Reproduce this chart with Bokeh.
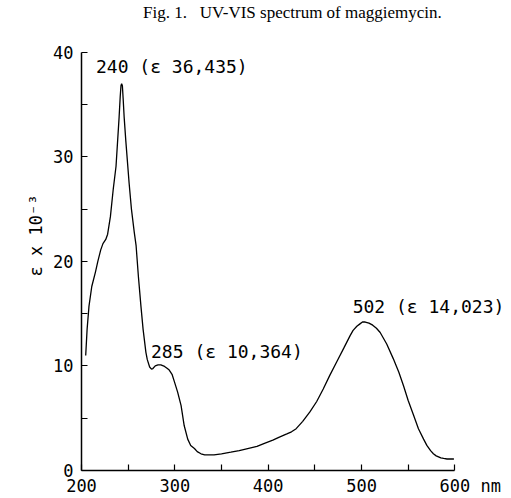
from bokeh.plotting import figure
from bokeh.models import Range1d, FixedTicker, Label
from bokeh.embed import file_html
from bokeh.resources import INLINE

# Spectrum: wavelength (nm) and epsilon x 10^-3
wavelength = [204.5, 206, 208, 211, 215, 217.5, 220.6, 223, 226, 228, 231, 234, 237,
              240.3, 241.5, 242.3, 243, 243.8, 244.6, 245.7, 247.5, 251, 253.5,
              256.5, 258.5, 261, 263.7, 266, 269, 270.5, 273, 275, 276.5, 279, 282,
              285, 289, 292, 294, 297, 299.5, 303, 306.7, 310, 313.8, 317, 321, 324,
              328, 332, 337, 342, 350, 360, 369, 378, 388, 396, 405, 412, 420, 425,
              430, 437, 444.7, 452, 459, 466, 473.5, 481, 487.8, 491, 495, 498, 501,
              504, 508, 512, 516, 520, 527, 534, 540, 545, 550, 555.7, 561, 566.5,
              570, 574, 577, 580, 585, 588, 591.6, 599]
epsilon = [11.0, 13.5, 15.7, 17.6, 19.0, 20.0, 21.1, 21.7, 22.1, 22.6, 24.3, 26.9, 29.1,
           33.8, 35.8, 36.8, 37.0, 36.8, 35.6, 33.8, 31.5, 27.5, 25.0,
           22.8, 21.5, 18.5, 15.7, 13.5, 11.3, 10.6, 9.9, 9.7, 9.75, 10.0, 10.1,
           10.1, 9.95, 9.75, 9.6, 9.2, 8.5, 7.5, 6.2, 4.3, 3.0, 2.4, 2.1, 1.8,
           1.6, 1.5, 1.5, 1.5, 1.6, 1.75, 1.9, 2.1, 2.3, 2.6, 2.9, 3.2, 3.5, 3.7,
           4.0, 4.7, 5.6, 6.6, 7.8, 9.1, 10.4, 11.7, 12.9, 13.4, 13.8, 14.0, 14.2,
           14.2, 14.1, 13.9, 13.6, 13.2, 12.1, 10.7, 9.4, 8.1, 6.7, 5.3, 4.0, 3.0,
           2.4, 1.9, 1.6, 1.4, 1.2, 1.15, 1.1, 1.1]

# Peak annotations
peak_nm = [240, 285, 502]
peak_eps = ["36,435", "10,364", "14,023"]
# label anchor positions (data units, left/middle)
label_x = [215.5, 274.5, 490.5]
label_y = [38.6, 11.4, 15.7]

x_ticks = [200, 300, 400, 500, 600]
x_minor = [250, 350, 450, 550]
x_tick_labels = {600: "\u00a0\u00a0\u00a0600 nm"}
y_ticks = [0, 10, 20, 30, 40]
y_minor = [5, 15, 25, 35]

title_text = "Fig. 1.\u00a0\u00a0\u00a0UV-VIS spectrum of maggiemycin."
title_pos = (426, 43.8)
mono = "DejaVu Sans Mono"

p = figure(width=511, height=498, x_range=Range1d(200, 660.7), y_range=Range1d(0, 44.95),
           output_backend="svg", toolbar_location=None,
           min_border_left=81, min_border_right=0, min_border_top=0, min_border_bottom=26)
p.grid.visible = False
p.outline_line_color = None
p.background_fill_color = "white"
p.border_fill_color = "white"

p.line(wavelength, epsilon, line_color="black", line_width=1.3)

for ax, ticks, minor, bnd in ((p.xaxis[0], x_ticks, x_minor, (200, 600)),
                              (p.yaxis[0], y_ticks, y_minor, (0, 40))):
    ax.ticker = FixedTicker(ticks=ticks, minor_ticks=minor)
    ax.bounds = bnd
    ax.axis_line_width = 1.5
    ax.axis_line_color = "black"
    ax.major_tick_in = 6
    ax.major_tick_out = 0
    ax.minor_tick_in = 6
    ax.minor_tick_out = 0
    ax.major_tick_line_width = 1.2
    ax.minor_tick_line_width = 1.2
    ax.major_tick_line_color = "black"
    ax.minor_tick_line_color = "black"
    ax.major_label_text_font = mono
    ax.major_label_text_font_size = "17px"
    ax.major_label_text_color = "black"

p.xaxis[0].major_label_overrides = x_tick_labels
p.xaxis[0].major_label_standoff = 5
p.yaxis[0].major_label_standoff = 8
p.yaxis[0].axis_label = "ε x 10⁻³"
p.yaxis[0].axis_label_text_font = mono
p.yaxis[0].axis_label_text_font_size = "17px"
p.yaxis[0].axis_label_text_font_style = "normal"
p.yaxis[0].axis_label_text_color = "black"
p.yaxis[0].axis_label_standoff = 4

for nm, eps, lx, ly in zip(peak_nm, peak_eps, label_x, label_y):
    p.add_layout(Label(x=lx, y=ly, text=f"{nm} (ε {eps})", text_font=mono,
                       text_font_size="18px", text_align="left", text_baseline="middle",
                       text_color="black"))

p.add_layout(Label(x=title_pos[0], y=title_pos[1], text=title_text,
                   text_font="Liberation Serif", text_font_size="17px",
                   text_align="center", text_baseline="middle", text_color="black"))

open("out.html", "w").write(file_html(p, INLINE))
